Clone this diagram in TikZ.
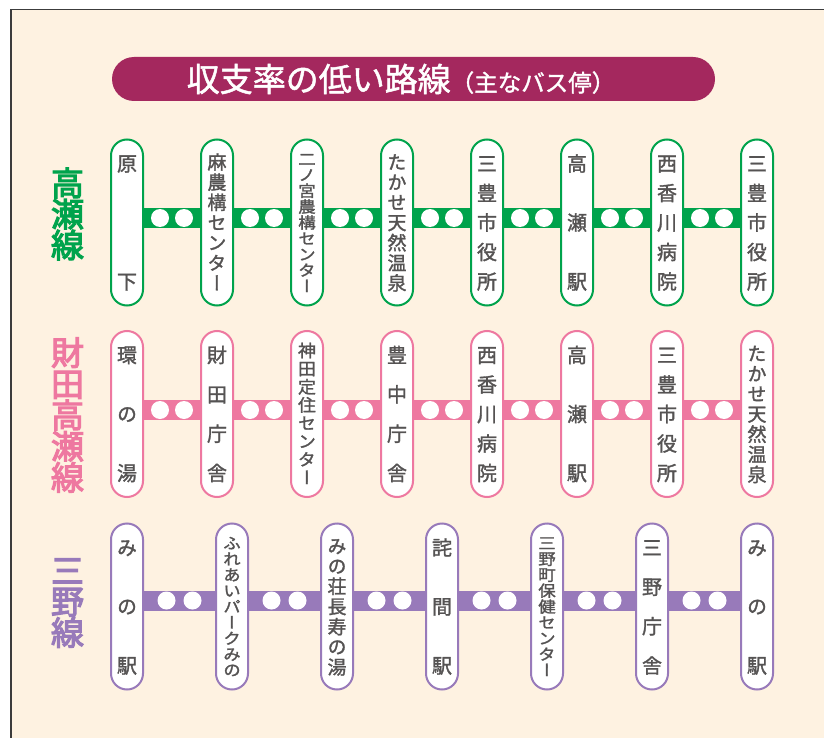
\documentclass[tikz,border=0pt]{standalone}
\usepackage{fontspec}
\setmainfont{Noto Sans CJK JP}
\newfontfamily\stopfont[RawFeature=+vert,FakeBold=1.5]{Noto Sans CJK JP}
\newfontfamily\labfont[FakeBold=3.5]{Noto Sans CJK JP}
\newfontfamily\titlefont[FakeBold=1.5]{Noto Sans CJK JP}
\usepackage{graphicx}
\definecolor{gcol}{RGB}{0,163,76}
\definecolor{pcol}{RGB}{238,120,160}
\definecolor{vcol}{RGB}{152,122,186}
\definecolor{titlecol}{RGB}{164,40,94}
\definecolor{beige}{RGB}{254,242,225}
\definecolor{textgray}{RGB}{85,83,83}
\definecolor{framecol}{RGB}{60,60,60}
\newcommand\stkscale{1}
\newcommand\chbox[1]{\hbox to 0pt{\hss\raisebox{-\stkscale\dimexpr0.38em\relax}[0pt][0pt]{\scalebox{1}[\stkscale]{#1}}\hss}}
\def\stkfirst#1{\ifx#1\relax\else\chbox{#1}\expandafter\stkrest\fi}
\def\stkrest#1{\ifx#1\relax\else\vfill\chbox{#1}\expandafter\stkrest\fi}
\newcommand\stk[4]{\vbox to #2{\offinterlineskip\fontsize{#1}{#1}\selectfont\def\stkscale{#3}\expandafter\stkfirst#4\relax}}
\begin{document}
\begin{tikzpicture}[x=1pt,y=-1pt,
  pill/.style={rectangle, rounded corners=16pt, minimum width=32pt, minimum height=166pt, line width=2pt, fill=white, inner sep=0pt},
  stoptext/.style={inner sep=0pt, text=textgray, font=\stopfont},
  band/.style={line width=20pt, line cap=butt},
  dot/.style={circle, fill=white, minimum size=18pt, inner sep=0pt},
  lab/.style={inner sep=0pt, font=\labfont}]
\useasboundingbox (0,0) rectangle (824,738);
\fill[white] (0,0) rectangle (824,738);
\fill[beige] (11,9.5) rectangle (824,738);
\draw[framecol, line width=1.3pt] (11,738) -- (11,9.5) -- (824,9.5);
% title
\node[fill=titlecol, rounded corners=22pt, minimum width=603pt, minimum height=44pt, inner sep=0pt] (titlebar) at (413.5,79) {};
\node[text=white, inner sep=0pt, font=\titlefont] (titletext) at (401,79) {{\fontsize{33pt}{33pt}\selectfont 収支率の低い路線}{\fontsize{23.5pt}{23.5pt}\selectfont （主なバス停）}};
% line labels
\node[lab, text=gcol] (lab1) at (67.5,214) {\stk{33pt}{62pt}{1}{高瀬線}};
\node[lab, text=pcol] (lab2) at (67.5,415) {\stk{33pt}{124.8pt}{1}{財田高瀬線}};
\node[lab, text=vcol] (lab3) at (67.5,601.5) {\stk{33pt}{62pt}{1}{三野線}};
% line 1
\foreach \sz/\sp/\sc/\txt [count=\i] in {20/118/1/原下,19/121/1/麻農構センター,17.5/127/0.9/二ノ宮農構センター,19/121/1/たかせ天然温泉,20/118/1/三豊市役所,20/118/1/高瀬駅,20/118/1/西香川病院,20/118/1/三豊市役所}{
  \node[pill, draw=gcol] (g\i) at ({127+90*(\i-1)},222.5) {};
  \node[stoptext] (gt\i) at (g\i.center) {\stk{\sz pt}{\sp pt}{\sc}{\txt}};
}
\foreach \i [evaluate=\i as \j using int(\i+1)] in {1,...,7}{
  \draw[band, draw=gcol] ([yshift=4.5pt]g\i.east) -- ([yshift=4.5pt]g\j.west)
    node[dot, midway, xshift=-12pt] (ga\i) {} node[dot, midway, xshift=12pt] (gb\i) {};
}
% line 2
\foreach \sz/\sp/\sc/\txt [count=\i] in {20/118/1/環の湯,20/118/1/財田庁舎,18/127/0.95/神田定住センター,20/118/1/豊中庁舎,20/118/1/西香川病院,20/118/1/高瀬駅,20/118/1/三豊市役所,19/121/1/たかせ天然温泉}{
  \node[pill, draw=pcol] (p\i) at ({127+90*(\i-1)},414) {};
  \node[stoptext] (pt\i) at (p\i.center) {\stk{\sz pt}{\sp pt}{\sc}{\txt}};
}
\foreach \i [evaluate=\i as \j using int(\i+1)] in {1,...,7}{
  \draw[band, draw=pcol] ([yshift=4pt]p\i.east) -- ([yshift=4pt]p\j.west)
    node[dot, midway, xshift=-12pt] (pa\i) {} node[dot, midway, xshift=12pt] (pb\i) {};
}
% line 3
\foreach \sz/\sp/\sc/\txt [count=\i] in {20/118/1/みの駅,17.5/127/0.9/ふれあいパークみの,19/121/1/みの荘長寿の湯,20/118/1/詫間駅,17.5/127/0.9/三野町保健センター,20/118/1/三野庁舎,20/118/1/みの駅}{
  \node[pill, draw=vcol] (v\i) at ({127+105*(\i-1)},606.5) {};
  \node[stoptext] (vt\i) at (v\i.center) {\stk{\sz pt}{\sp pt}{\sc}{\txt}};
}
\foreach \i [evaluate=\i as \j using int(\i+1)] in {1,...,6}{
  \draw[band, draw=vcol] ([yshift=6pt]v\i.east) -- ([yshift=6pt]v\j.west)
    node[dot, midway, xshift=-13pt] (va\i) {} node[dot, midway, xshift=13pt] (vb\i) {};
}
\end{tikzpicture}
\end{document}
